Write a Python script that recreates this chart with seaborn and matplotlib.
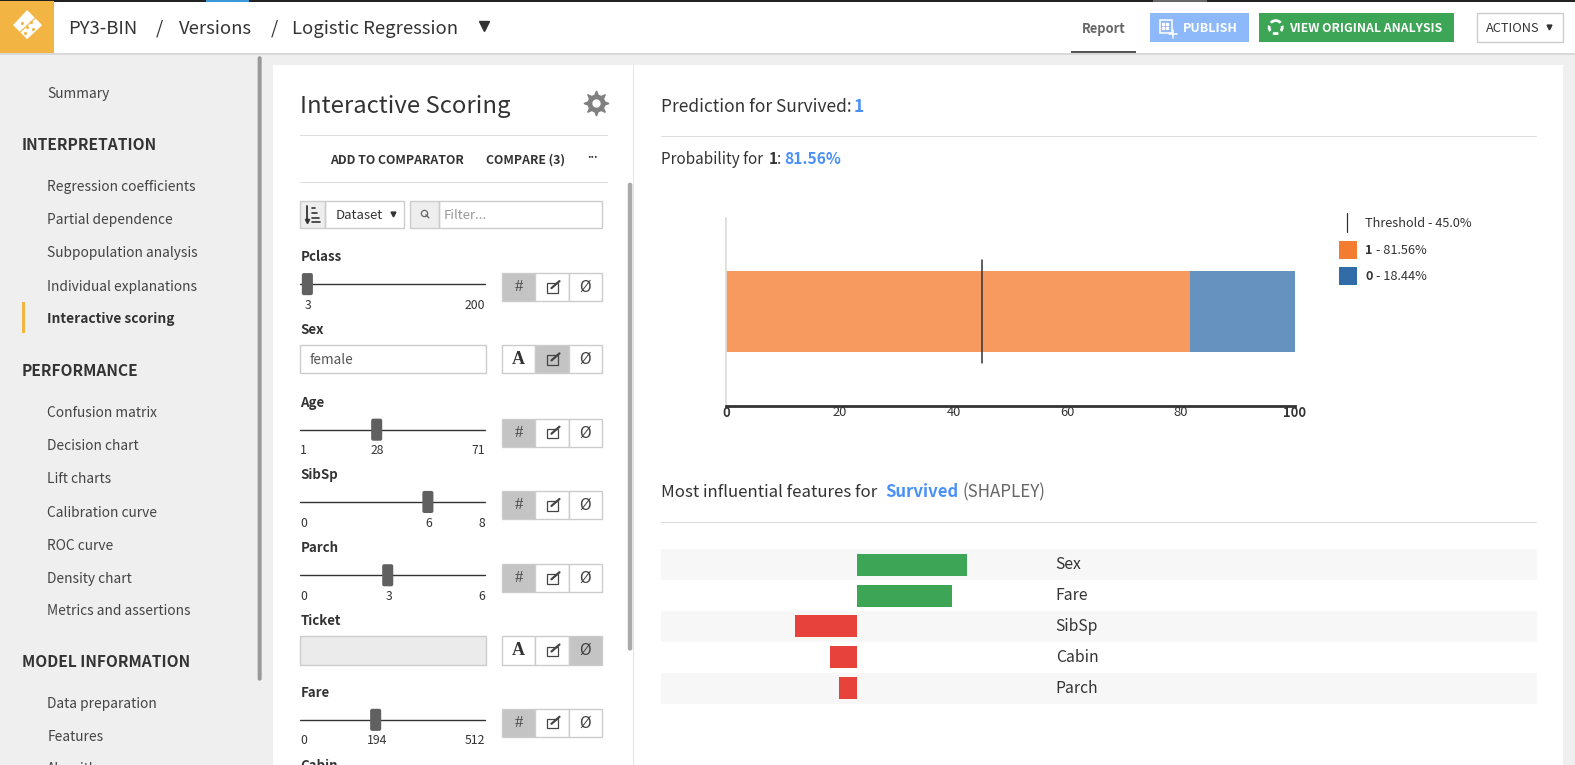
import numpy as np
import pandas as pd
import matplotlib
matplotlib.use('Agg')
import matplotlib.pyplot as plt
import seaborn as sns
from matplotlib.patches import Rectangle, FancyBboxPatch, Circle

# Values
prob_one = 81.56
prob_zero = 18.44
threshold = 45.0
prob_ticks = [0, 20, 40, 60, 80, 100]

features = ['Sex', 'Fare', 'SibSp', 'Cabin', 'Parch']
shap_values = [1.00, 0.86, -0.56, -0.24, -0.16]

menu_plain = ['Summary', 'Regression coefficients', 'Partial dependence', 'Subpopulation analysis',
              'Individual explanations', 'Confusion matrix', 'Decision chart', 'Lift charts',
              'Calibration curve', 'ROC curve', 'Density chart', 'Metrics and assertions',
              'Data preparation', 'Features', 'Algorithm']
menu_plain_y = [92, 185, 218, 251, 284, 410, 443, 476, 509, 542, 575, 607, 700, 733, 764]
menu_heads = ['INTERPRETATION', 'PERFORMANCE', 'MODEL INFORMATION']
menu_heads_y = [143, 368, 658]

slider_names = ['Pclass', 'Age', 'SibSp', 'Parch', 'Fare']
slider_min = ['3', '1', '0', '0', '0']
slider_val = ['', '28', '6', '3', '194']
slider_max = ['200', '71', '8', '6', '512']
slider_handle_x = [306, 375, 426, 386, 374]    # handle centres on screen
slider_line_y = [283, 428, 500, 573, 717]
text_names = ['Sex', 'Ticket']
text_line_y = [358, 648]

ORANGE = '#F47C30'
BLUE = '#316CA8'
LINK = '#4A90F7'
DARK = '#333333'
W, H = 1568, 762

sns.set_style('white')
plt.rcParams['font.family'] = ['Noto Sans CJK SC', 'DejaVu Sans']

plt.figure(figsize=(15.75, 7.65), dpi=100)

# ==============================================================================
# 1. Page chrome, drawn in screen pixels
# ==============================================================================
ax = plt.axes([0, 0, 1, 1])
plt.xlim(0, W)
plt.ylim(H, 0)
plt.axis('off')

boxes = [
    (0, 0, W, H, '#EFEFEF'),       # page
    (0, 0, W, 53, 'white'),        # header
    (0, 53, W, 54.5, '#D9D9D9'),
    (0, 0, W, 1.5, '#222222'),
    (205, 0, 248, 1.5, '#3A9AD9'),
    (1148, 0, 1202, 1.5, '#666666'),
    (0, 1, 54, 53, '#F2B544'),     # logo
    (1066, 51, 1131, 53, '#555555'),
    (1145, 13, 1243, 42, '#8DB8FA'),
    (1253, 13, 1448, 42, '#3DA556'),
    (22, 301, 24.5, 332, '#F2B544'),
    (272, 65, 1556, H, 'white'),   # panel
    (630, 65, 631, H, '#E3E3E3'),
    (299, 134, 605, 135, '#DDDDDD'),
    (299, 181, 605, 182, '#DDDDDD'),
    (658, 135, 1530, 136, '#DDDDDD'),
    (658, 520, 1530, 521, '#DDDDDD'),
    (299, 200, 324, 227, '#EEEEEE'),
    (408, 200, 437, 227, '#EEEEEE'),
    (1333, 240, 1351, 258, ORANGE),
    (1333, 266, 1351, 284, BLUE),
]
for x0, y0, x1, y1, colour in boxes:
    ax.add_patch(Rectangle((x0, y0), x1 - x0, y1 - y0, color=colour, lw=0))

outlines = [(1470, 13, 1556, 42), (324, 200, 402, 227), (437, 200, 599, 227), (299, 200, 324, 227), (408, 200, 437, 227)]
for x0, y0, x1, y1 in outlines:
    ax.add_patch(Rectangle((x0, y0), x1 - x0, y1 - y0, fc='none', ec='#CCCCCC', lw=1))

# scroll bars
ax.add_patch(FancyBboxPatch((256.5, 56), 4, 622, boxstyle='round,pad=0,rounding_size=2', color='#999999', lw=0))
ax.add_patch(FancyBboxPatch((625, 182), 4.5, 466, boxstyle='round,pad=0,rounding_size=2', color='#AAAAAA', lw=0))

# logo diamond
plt.fill([27, 42, 27, 13], [10, 25, 39, 25], color='white', lw=0)
plt.plot([20, 35], [32, 18], color='#F2B544', lw=0.8)
plt.plot([22, 27, 31, 33, 25], [23, 27, 22, 29, 33], ls='none', marker='o', ms=1.2, color='#F2B544')

# little carets and the gear
plt.plot([482], [26], marker='v', ms=7, color=DARK)
plt.plot([1542, 391], [27, 213], ls='none', marker='v', ms=3.5, color=DARK)
plt.plot([593], [103], marker=(8, 1, 0), ms=18, color='#808080')
plt.plot([593], [103], marker='o', ms=12, color='#808080')
plt.plot([593], [103], marker='o', ms=5, color='white')
plt.plot([422], [212], marker='o', ms=4.5, mfc='none', mec='#666666', mew=0.9)
plt.plot([424, 427], [214, 217], color='#666666', lw=1)

# publish, analysis and sort icons
ax.add_patch(Rectangle((1155, 20), 12, 13, fc='none', ec='white', lw=1.1))
plt.plot([1158, 1162, 1158, 1162], [24, 24, 28, 28], ls='none', marker='s', ms=1.8, color='white')
plt.plot([1168, 1168], [30, 38], color='white', lw=1.1)
plt.plot([1164, 1172], [34, 34], color='white', lw=1.1)
ax.add_patch(Circle((1270, 27), 6.5, fc='none', ec='white', lw=2, ls=(0, (2, 1.2))))
plt.plot([306, 306], [205, 220], color=DARK, lw=1.3)
plt.plot([306], [220], marker='v', ms=3, color=DARK)
for y, x1 in zip([207, 212, 217, 221], [314, 316, 318, 319]):
    plt.plot([311, x1], [y, y], color=DARK, lw=1.2)

# ==============================================================================
# 2. Texts of the page
# ==============================================================================
for name, y in zip(menu_plain, menu_plain_y):
    plt.text(47, y + 1.5, name, fontsize=9.9, color='#444444', va='center')
plt.text(47, 317.5, 'Interactive scoring', fontsize=9.9, fontweight='bold', color=DARK, va='center')
for name, y in zip(menu_heads, menu_heads_y):
    plt.text(22, y + 1.5, name, fontsize=11.2, fontweight='bold', color=DARK, va='center')

texts = [
    (68, 27, 'PY3-BIN', 13.3, 'normal', DARK),
    (155, 27, '/', 13.3, 'normal', DARK),
    (178, 27, 'Versions', 13.3, 'normal', DARK),
    (270, 27, '/', 13.3, 'normal', DARK),
    (291, 27, 'Logistic Regression', 13.3, 'normal', DARK),
    (1077, 27, 'Report', 9.3, 'bold', '#666666'),
    (1178, 27, 'PUBLISH', 9, 'bold', 'white'),
    (1283, 27, 'VIEW ORIGINAL ANALYSIS', 8.8, 'bold', 'white'),
    (1479, 27, 'ACTIONS', 9.2, 'normal', DARK),
    (299, 105, 'Interactive Scoring', 17.2, 'normal', DARK),
    (329, 158, 'ADD TO COMPARATOR', 8.85, 'bold', DARK),
    (484, 158, 'COMPARE (3)', 8.8, 'bold', DARK),
    (585, 152, '...', 8, 'bold', DARK),
    (334, 213, 'Dataset', 9.5, 'normal', DARK),
    (442, 213, 'Filter...', 9.5, 'normal', '#999999'),
    (658, 105, 'Prediction for Survived:', 12.5, 'normal', DARK),
    (850, 105, '1', 12.5, 'bold', LINK),
    (658, 157, 'Probability for', 11, 'normal', DARK),
    (765, 157, '1', 11, 'bold', DARK),
    (773, 157, ':', 11, 'normal', DARK),
    (781, 157, '81.56%', 11.2, 'bold', LINK),
    (658, 489, 'Most influential features for', 12.1, 'normal', DARK),
    (881.5, 489, 'Survived', 12, 'bold', LINK),
    (958.5, 489, '(SHAPLEY)', 12.2, 'normal', '#666666'),
    (1359, 221, f'Threshold - {threshold:.1f}%', 9.2, 'normal', DARK),
    (1359, 248, '1', 9.2, 'bold', DARK),
    (1370, 248, f'- {prob_one:.2f}%', 9.2, 'normal', DARK),
    (1359, 274, '0', 9.2, 'bold', DARK),
    (1370, 274, f'- {prob_zero:.2f}%', 9.2, 'normal', DARK),
]
for x, y, label, size, weight, colour in texts:
    plt.text(x, y + 1.5, label, fontsize=size, fontweight=weight, color=colour, va='center')

plt.plot([1341, 1341], [212, 231], color=DARK, lw=0.9)

# ==============================================================================
# 3. Sliders and text inputs of the scoring form
# ==============================================================================
toggle_rows = []
for name, low, mid, high, hx, y in zip(slider_names, slider_min, slider_val, slider_max, slider_handle_x, slider_line_y):
    plt.text(299, y - 27, name, fontsize=9.6, fontweight='bold', color=DARK, va='center')
    plt.plot([299, 483], [y, y], color=DARK, lw=1)
    ax.add_patch(FancyBboxPatch((hx - 5.5, y - 11), 11, 22, boxstyle='round,pad=0,rounding_size=2', color='#606060', lw=0, zorder=3))
    plt.text(303 if name == 'Pclass' else 299, y + 21, low, fontsize=8.8, color=DARK, va='center')
    plt.text(hx + 1, y + 21, mid, fontsize=8.8, color=DARK, va='center', ha='center')
    plt.text(483, y + 21, high, fontsize=8.8, color=DARK, va='center', ha='right')
    toggle_rows.append((y + 3, 0, '#'))

for name, y in zip(text_names, text_line_y):
    plt.text(299, y - 29, name, fontsize=9.6, fontweight='bold', color=DARK, va='center')
    ax.add_patch(Rectangle((299, y - 14), 185, 28, fc='white' if name == 'Sex' else '#EBEBEB', ec='#CCCCCC', lw=1))
    toggle_rows.append((y, 1 if name == 'Sex' else 2, 'A'))
plt.text(308, 359, 'female', fontsize=9.8, color='#555555', va='center')
plt.text(299, 763, 'Cabin', fontsize=9.6, fontweight='bold', color=DARK, va='center')

for y, active, first in toggle_rows:
    x_left = 500
    for i, x0 in enumerate([x_left, x_left + 33, x_left + 66]):
        ax.add_patch(Rectangle((x0, y - 14), 33, 28, fc='#C4C4C4' if i == active else 'white', ec='#CCCCCC', lw=1))
    if first == '#':
        plt.text(516.5, y, '#', fontsize=12, family='Liberation Serif', color='#444444', ha='center', va='center')
    else:
        plt.text(516.5, y, 'A', fontsize=13, family='Liberation Serif', fontweight='bold', color=DARK, ha='center', va='center')
    ax.add_patch(Rectangle((544.5, y - 4), 11, 9.5, fc='none', ec='#444444', lw=0.9, zorder=3))
    plt.plot([549, 557], [y + 1, y - 6], color='#444444', lw=1.6, zorder=4)
    plt.text(582.5, y, 'Ø', fontsize=10.5, family='DejaVu Sans', color='#444444', ha='center', va='center')

# ==============================================================================
# 4. Probability bar
# ==============================================================================
plt.axes([723 / W, 1 - 404 / H, (1289 - 723) / W, (404 - 217) / H], facecolor='none')
sns.barplot(x=[prob_one + prob_zero], y=['Survived'], color='#6692BF', saturation=1, width=0.433, linewidth=0)
sns.barplot(x=[prob_one], y=['Survived'], color='#F79A60', saturation=1, width=0.433, linewidth=0)
plt.plot([threshold, threshold], [-0.275, 0.275], color=DARK, lw=1.1)
plt.xlim(0, 100)
plt.ylim(0.5, -0.5)
plt.xlabel('')
plt.ylabel('')
plt.yticks([])
plt.xticks(prob_ticks, [str(t) for t in prob_ticks], fontsize=9.3, color=DARK)
plt.tick_params(axis='x', length=0, pad=0)
for label in plt.gca().get_xticklabels():
    if label.get_text() in ('0', '100'):
        label.set_fontweight('bold')
sns.despine()
plt.gca().spines['bottom'].set_color(DARK)
plt.gca().spines['bottom'].set_linewidth(2)
plt.gca().spines['left'].set_color('#DDDDDD')
plt.gca().spines['left'].set_linewidth(1.3)

# ==============================================================================
# 5. Most influential features
# ==============================================================================
shap_colors = ['#3DA556' if v > 0 else '#E7423C' for v in shap_values]
plt.axes([658 / W, 1 - 701 / H, (1530 - 658) / W, (701 - 547) / H], facecolor='none')
sns.barplot(x=shap_values, y=features, hue=features, palette=shap_colors, saturation=1, width=0.71, linewidth=0, legend=False)
for i, name in enumerate(features):
    if i % 2 == 0:
        plt.axhspan(i - 0.5, i + 0.5, color='#F7F7F7', lw=0, zorder=0)
    plt.text(1.8, i, name, fontsize=11.3, color=DARK, va='center')
plt.xlim(-1.773, 6.155)
plt.ylim(4.5, -0.5)
plt.axis('off')

plt.savefig('out.png', dpi=100)
plt.close()
